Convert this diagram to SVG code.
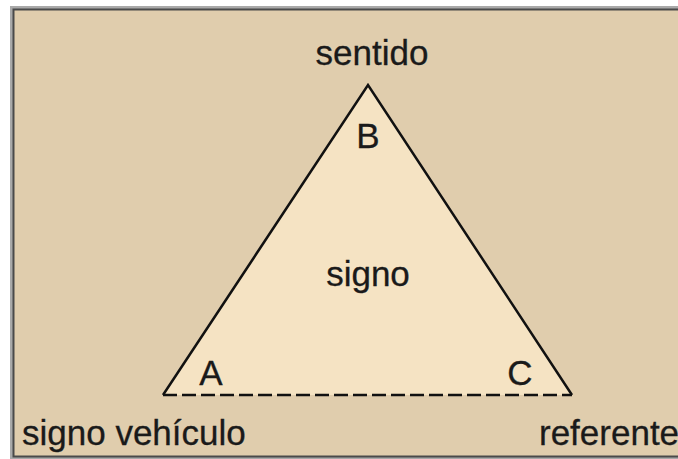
<svg xmlns="http://www.w3.org/2000/svg" width="678" height="459" viewBox="0 0 678 459">
<style>
text{font-family:"Liberation Sans",Arial,sans-serif;font-size:35px;fill:#1a1a1a;stroke:#1a1a1a;stroke-width:0.3}
.side{fill:none;stroke:#111;stroke-width:2.5;stroke-linejoin:miter}
.dash{fill:none;stroke:#111;stroke-width:2.5;stroke-dasharray:14 5}
</style>
<rect x="0" y="0" width="678" height="459" fill="#ffffff"/>
<rect x="11.5" y="7.5" width="680" height="451" fill="none" stroke="#a9a9a9" stroke-width="3"/>
<rect x="13.5" y="9.5" width="680" height="447" fill="#e0cdad" stroke="#4a4a4a" stroke-width="2"/>
<g id="triangle">
<polygon points="368,85 163,395 572,395" fill="#f5e3c3"/>
</g>
<g id="connectors">
<polyline class="side" points="163,395 368,85 572,395"/>
<line class="dash" x1="163" y1="395" x2="572" y2="395"/>
</g>
<g id="sentido"><text x="372" y="65" text-anchor="middle">sentido</text></g>
<g id="B"><text x="368" y="148" text-anchor="middle">B</text></g>
<g id="signo"><text x="368" y="286" text-anchor="middle">signo</text></g>
<g id="A"><text x="211" y="385" text-anchor="middle">A</text></g>
<g id="C"><text x="520" y="385" text-anchor="middle">C</text></g>
<g id="signo-vehiculo"><text x="22" y="445">signo vehículo</text></g>
<g id="referente"><text x="539" y="445">referente</text></g>
</svg>
